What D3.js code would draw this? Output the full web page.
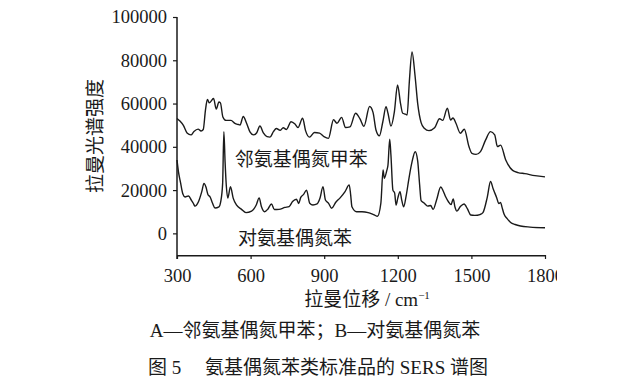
<!DOCTYPE html>
<html>
<head>
<meta charset="utf-8">
<script src="https://cdn.jsdelivr.net/npm/d3@7/dist/d3.min.js"></script>
<style>
  body { margin: 0; background: #fff; }
  svg { display: block; }
  text { fill: #1a1a1a; font-family: "Liberation Serif", "Noto Sans CJK SC", serif; }
  .axis path, .axis line { stroke: #1a1a1a; }
</style>
</head>
<body>
<div id="chart"></div>
<script>
// Raman shift (cm-1) and intensity
const wnA = [300,312,326,341,357,369,386,398,407,416,424,432,449,460,471,477,487,500,520,536,
  550,557,570,584,598,612,625,638,652,667,679,693,705,720,733,746,765,781,793,812,
  824,840,860,881,899,917,938,952,971,987,1005,1028,1046,1062,1085,1099,1111,1125,1139,1152,
  1160,1172,1186,1199,1211,1220,1231,1238,1247,1258,1270,1281,1295,1308,1327,1350,1370,1383,1402,1415,
  1425,1437,1455,1471,1490,1502,1519,1537,1558,1578,1595,1606,1619,1640,1668,1690,1718,1759,1800];
const intA = [53100,51900,49900,46400,45500,47100,48200,47300,48000,57000,61900,60300,62300,57500,60700,60300,53800,52200,52200,50800,
  50300,50100,54000,50800,46800,45500,46500,49600,46400,44700,44500,47000,48500,47600,48800,48000,51600,50500,48900,53200,
  47500,44500,46600,46300,44700,43900,52500,50900,53600,48900,49200,55500,52900,49500,58600,55900,47800,45100,51600,58500,
  55500,49600,56200,68600,60100,55500,55100,54700,70100,83800,73200,60100,51200,48600,47500,48800,53000,52200,57800,52400,
  53300,50900,46300,48100,40100,37000,36500,37800,43200,47000,45500,40100,40800,33900,29100,28100,27600,26700,26100];

const wnB = [300,306,314,324,333,347,359,367,373,387,401,410,418,426,435,445,455,471,478,486,
  491,496,501,507,518,529,543,563,581,604,623,635,644,657,671,685,697,716,740,757,
  771,787,796,804,816,828,841,854,871,883,895,905,918,930,948,964,985,1002,1008,1013,
  1032,1054,1079,1104,1117,1131,1140,1145,1155,1160,1167,1172,1180,1187,1193,1200,1209,1216,1224,1234,
  1245,1258,1271,1281,1289,1295,1307,1322,1334,1344,1358,1375,1385,1395,1407,1417,1426,1433,1441,1455,
  1470,1484,1497,1514,1535,1547,1565,1578,1589,1603,1612,1619,1625,1633,1645,1660,1678,1700,1739,1800];
const intB = [33900,28400,23700,18200,16800,17300,15200,13800,12600,14500,19300,23100,21400,18000,16800,13900,11700,12200,14500,23000,
  47000,33000,22000,16300,21600,16300,13100,11100,9600,10300,13100,16400,12400,10000,11300,13600,11000,11100,12000,12400,
  14700,15800,13800,16500,18000,20000,13900,13100,13600,16300,21600,15400,13900,11600,14500,16300,19300,22400,17700,12300,
  10000,10000,9600,8500,7900,14000,29300,25500,29000,31600,43500,36200,20000,18700,13100,16300,19300,15400,12300,17300,
  25100,33000,37700,33500,22400,15100,14000,12600,12900,11100,15400,21400,19600,16900,14500,13300,15900,12200,10300,12400,
  13600,11300,8500,8300,8700,9600,16900,24000,20500,16500,13800,14300,12000,8900,6900,5000,4100,3400,2900,2600];

const xTicks = [300, 600, 900, 1200, 1500, 1800];
const yTicks = [0, 20000, 40000, 60000, 80000, 100000];
const seriesNames = ["邻氨基偶氮甲苯", "对氨基偶氮苯"];
// label anchor points, in data units
const labelWn = [535, 549];
const labelVal = [31000, -5500];

const W = 635, H = 388;
const svg = d3.select("#chart").append("svg")
    .attr("width", W)
    .attr("height", H);

const x = d3.scaleLinear().domain([300, 1800]).range([177, 545]);
const y = d3.scaleLinear().domain([-10000, 100000]).range([255, 17]);

// clip so the last x label is cut like in the source image
svg.append("clipPath").attr("id", "cut")
   .append("rect").attr("x", 0).attr("y", 0).attr("width", 557).attr("height", H);

const gx = svg.append("g")
    .attr("class", "axis")
    .attr("clip-path", "url(#cut)")
    .attr("transform", "translate(0,255)")
    .call(d3.axisBottom(x).tickValues(xTicks).tickFormat(d3.format("d"))
      .tickSize(4).tickSizeOuter(0).tickPadding(10));
gx.select(".domain").attr("stroke-width", 2);
gx.selectAll("line").attr("stroke-width", 1.2);
gx.selectAll("text").attr("font-size", 18.5);

const gy = svg.append("g")
    .attr("class", "axis")
    .attr("transform", "translate(177,0)")
    .call(d3.axisLeft(y).tickValues(yTicks).tickFormat(d3.format("d"))
      .tickSize(4).tickSizeOuter(0).tickPadding(6));
gy.select(".domain").attr("stroke-width", 1.5).attr("d", "M0,17V259");
gy.selectAll("line").attr("stroke-width", 1.2);
gy.selectAll("text").attr("font-size", 18.5);

const line = d3.line()
    .x(d => x(d[0]))
    .y(d => y(d[1]))
    .curve(d3.curveMonotoneX);

[[wnA, intA], [wnB, intB]].forEach(([wn, v]) => {
  svg.append("path")
     .datum(wn.map((w, i) => [w, v[i]]))
     .attr("fill", "none")
     .attr("stroke", "#1a1a1a")
     .attr("stroke-width", 1.4)
     .attr("stroke-linejoin", "round")
     .attr("d", line);
});

seriesNames.forEach((name, i) => {
  svg.append("text")
     .attr("x", x(labelWn[i]))
     .attr("y", y(labelVal[i]))
     .attr("font-size", 19)
     .text(name);
});

svg.append("text")
   .attr("transform", "translate(102,136) rotate(-90)")
   .attr("text-anchor", "middle")
   .attr("font-size", 19)
   .text("拉曼光谱强度");

const xt = svg.append("text")
   .attr("x", 367).attr("y", 306)
   .attr("text-anchor", "middle")
   .attr("font-size", 19);
xt.append("tspan").text("拉曼位移 / cm");
xt.append("tspan").attr("font-size", 11).attr("dy", -7).text("−1");

svg.append("text")
   .attr("x", 315).attr("y", 337)
   .attr("text-anchor", "middle")
   .attr("font-size", 19)
   .text("A—邻氨基偶氮甲苯；B—对氨基偶氮苯");

svg.append("text")
   .attr("x", 318).attr("y", 374)
   .attr("text-anchor", "middle")
   .attr("font-size", 19)
   .style("white-space", "pre")
   .text("图 5　 氨基偶氮苯类标准品的 SERS 谱图");
</script>
</body>
</html>
